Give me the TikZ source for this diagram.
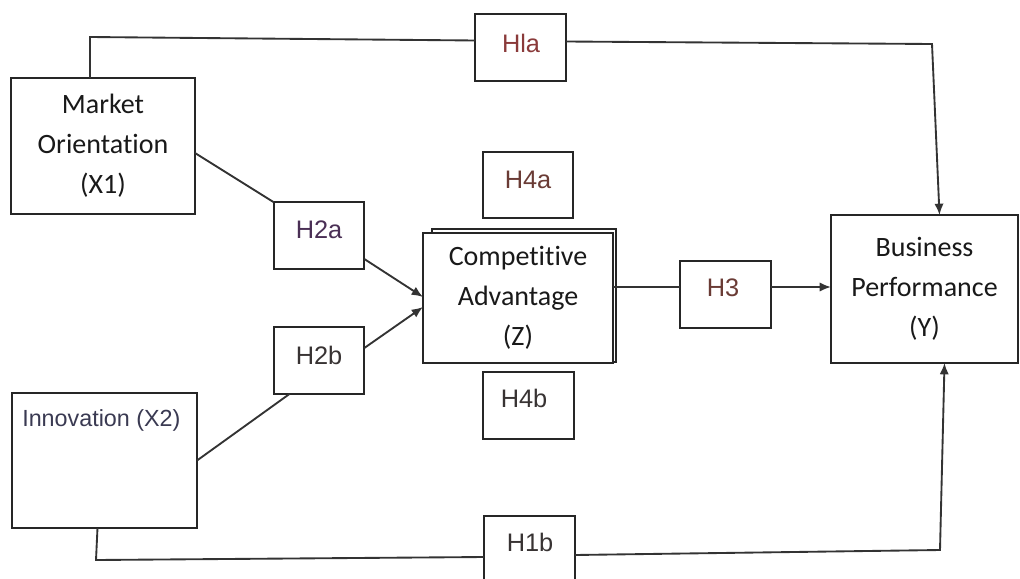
\documentclass[tikz,border=0pt]{standalone}
\usepackage{fontspec}
\setmainfont{Carlito}[Ligatures=NoCommon]
\newfontfamily\arialf{Liberation Sans}
\usetikzlibrary{arrows.meta,calc}
\definecolor{linec}{HTML}{333333}
\definecolor{hred}{HTML}{8A3A3A}
\definecolor{hbrown}{HTML}{6A3B35}
\definecolor{hpurple}{HTML}{4A2F55}
\definecolor{hgrey}{HTML}{383333}
\definecolor{innc}{HTML}{3A3A52}
\tikzset{
  box/.style={draw=black!85, line width=1.4pt, fill=white, inner sep=0pt, outer sep=0pt},
  bigtext/.style={font=\fontsize{21}{30}\selectfont, align=center, text=black!90},
  hfont/.style={font=\arialf\fontsize{19}{22}\selectfont},
  hbox/.style={box, minimum width=68pt, minimum height=50pt, hfont},
  htext/.style={inner sep=0pt, hfont},
  conn/.style={draw=linec, line width=1.4pt},
  arr/.style={conn, -{Latex[length=8.5pt,width=7pt]}}
}
\begin{document}
\begin{tikzpicture}[x=0.75pt,y=-0.75pt]
\useasboundingbox (0,0) rectangle (1020,578);
\clip (0,0) rectangle (1020,578);

% main boxes
\node[box, bigtext, minimum width=138pt, minimum height=102pt] (mo) at (103,146) {Market\\Orientat\kern0pt ion\\(X1)};
\node[box, minimum width=138.75pt, minimum height=101.25pt] (inn) at (104.5,460.5) {};
\node[anchor=west, inner sep=0pt, text=innc, font=\arialf\fontsize{17.5}{20}\selectfont] (innt) at (22,420) {Innovation (X2)};
\node[box, minimum width=138pt, minimum height=99.75pt] (cash) at (524,295.5) {};
\node[box, bigtext, minimum width=142.5pt, minimum height=97.5pt] (ca) at (518,298) {Compet\kern0pt it\kern0pt ive\\Advantage\\(Z)};
\node[box, bigtext, minimum width=140.25pt, minimum height=111pt] (bp) at (924.5,289) {\raisebox{5pt}{\parbox{130pt}{\centering Business\\Performance\\(Y)}}};

% hypothesis boxes
\node[hbox] (h1a) at (520.5,47.5) {};
\node[htext, text=hred] (h1at) at (521,43) {Hla};
\node[hbox] (h2a) at (319,235.5) {};
\node[htext, text=hpurple] (h2at) at (319,230) {H2a};
\node[hbox] (h2b) at (319,360.5) {};
\node[htext, text=hgrey] (h2bt) at (319,355) {H2b};
\node[hbox] (h4a) at (528,185) {};
\node[htext, text=hbrown] (h4at) at (528,180) {H4a};
\node[hbox] (h4b) at (528.5,405.5) {};
\node[htext, text=hgrey] (h4bt) at (524,398) {H4b};
\node[hbox] (h3) at (725.5,294.5) {};
\node[htext, text=hbrown] (h3t) at (723,288) {H3};
\node[box, minimum width=68pt, minimum height=63pt] (h1b) at (529.5,558) {};
\node[htext, text=hgrey] (h1bt) at (530,542) {H1b};

% helper coordinates
\coordinate (t1) at (90,37);
\coordinate (t2) at (932,44);
\coordinate (b1) at (96,560);
\coordinate (b2) at (940,550);
\coordinate (mid) at (0,287);

% top path H1a
\draw[conn] (mo.north -| t1) -- (t1) -- ($(h1a.west)+(0,-7)$);
\draw[arr] ($(h1a.east)+(0,-6)$) -- (t2) -- ($(bp.north)+(15,0)$);

% bottom path H1b
\draw[conn] ($(inn.south)+(-7,0)$) -- (b1) -- ($(h1b.west)+(0,-1)$);
\draw[arr] ($(h1b.east)+(0,-3)$) -- (b2) -- ($(bp.south)+(20,0)$);

% H2a / H2b
\draw[conn] ($(mo.east)+(0,7)$) -- (h2a.north west);
\draw[arr] ($(h2a.east)+(0,23.5)$) -- ($(ca.west)+(0,-1)$);
\draw[conn] (inn.east) -- ($(h2b.south west)+(16,0)$);
\draw[arr] ($(h2b.east)+(0,-12.5)$) -- ($(ca.west)+(0,9)$);

% H3
\draw[conn] (ca.east |- mid) -- (h3.west |- mid);
\draw[arr] (h3.east |- mid) -- (bp.west |- mid);
\end{tikzpicture}
\end{document}
